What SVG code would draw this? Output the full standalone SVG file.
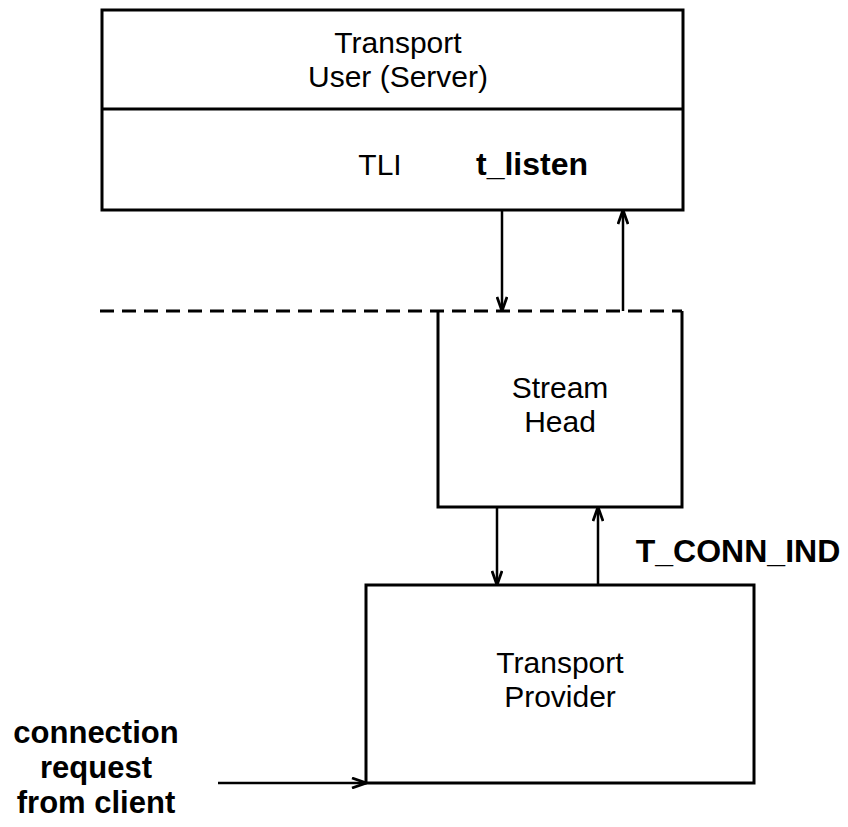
<svg xmlns="http://www.w3.org/2000/svg" width="848" height="827" viewBox="0 0 848 827">
<defs>
<style>
.box{fill:none;stroke:#000;stroke-width:3;stroke-linejoin:miter}
.ln{fill:none;stroke:#000;stroke-width:2.5}
.dash{fill:none;stroke:#000;stroke-width:3;stroke-dasharray:14 8}
.t{font-family:"Liberation Sans",Arial,Helvetica,sans-serif;font-size:30px;fill:#000;text-anchor:middle}
.b{font-weight:bold;font-size:32px}
.s{font-size:31px}
</style>
<marker id="ah" viewBox="0 0 16 12" refX="15" refY="6" markerWidth="16" markerHeight="12" markerUnits="userSpaceOnUse" orient="auto">
<path d="M1,1 L15,6 L1,11" fill="none" stroke="#000" stroke-width="2.8"/>
</marker>
</defs>
<rect width="848" height="827" fill="#fff"/>
<g id="transport-user">
<rect class="box" x="102" y="10" width="581" height="200"/>
<line class="box" x1="102" y1="109" x2="683" y2="109"/>
<text class="t" x="398" y="53">Transport</text>
<text class="t" x="398" y="87">User (Server)</text>
<text class="t" x="380" y="175">TLI</text>
<text class="t b" x="532" y="175">t_listen</text>
</g>
<g id="boundary">
<line class="dash" x1="100" y1="311" x2="682" y2="311"/>
</g>
<g id="stream-head">
<polyline class="box" points="438,311 438,507 682,507 682,311"/>
<text class="t" x="560" y="398">Stream</text>
<text class="t" x="560" y="432">Head</text>
</g>
<g id="transport-provider">
<rect class="box" x="366" y="585" width="388" height="198"/>
<text class="t" x="560" y="673">Transport</text>
<text class="t" x="560" y="707">Provider</text>
</g>
<g id="labels">
<text class="t b" x="738" y="562">T_CONN_IND</text>
<text class="t b s" x="96" y="743">connection</text>
<text class="t b s" x="96" y="778">request</text>
<text class="t b s" x="96" y="813">from client</text>
</g>
<g id="connectors">
<line class="ln" x1="502" y1="210" x2="502" y2="311" marker-end="url(#ah)"/>
<line class="ln" x1="623" y1="311" x2="623" y2="210" marker-end="url(#ah)"/>
<line class="ln" x1="497" y1="507" x2="497" y2="585" marker-end="url(#ah)"/>
<line class="ln" x1="598" y1="585" x2="598" y2="507" marker-end="url(#ah)"/>
<line class="ln" x1="218" y1="783" x2="366" y2="783" marker-end="url(#ah)"/>
</g>
</svg>
